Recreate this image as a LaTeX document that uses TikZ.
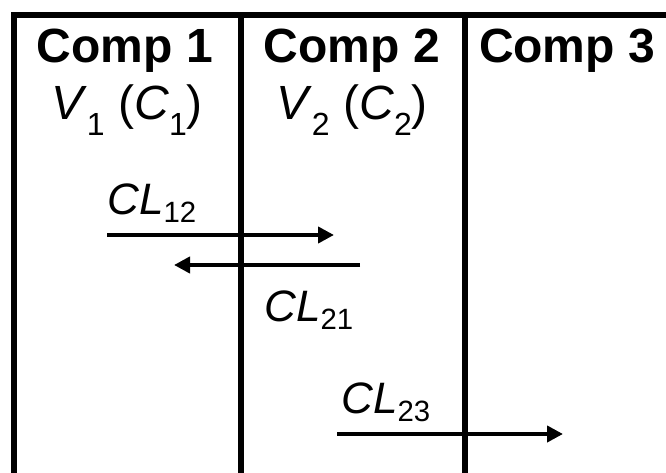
\documentclass[tikz,border=0pt]{standalone}
\usepackage{fontspec}
\setmainfont{Liberation Sans}
\usetikzlibrary{arrows.meta}

\newcommand{\vsub}[1]{\raisebox{-12pt}{\fontsize{24}{24}\selectfont #1}}
\newcommand{\clsub}[1]{\raisebox{-6pt}{\fontsize{22}{22}\selectfont #1}}

\begin{document}
\begin{tikzpicture}[x=0.75pt,y=-0.75pt,
    wall/.style={line width=3.8pt},
    flow/.style={line width=3.5pt,-{Triangle[length=12pt,width=12pt]}},
    comp/.style={inner sep=0pt,anchor=base,font=\fontsize{36}{36}\selectfont\bfseries},
    vol/.style={inner sep=0pt,anchor=base,font=\fontsize{36}{36}\selectfont},
    clear/.style={inner sep=0pt,anchor=base west,font=\fontsize{33}{33}\selectfont}]
  \useasboundingbox (0,0) rectangle (666,473);
  \draw[wall] (666,15) -- (14,15) -- (14,473);
  \draw[wall] (241,15) -- (241,473);
  \draw[wall] (465,15) -- (465,473);
  \node[comp] (comp1) at (125,63) {Comp 1};
  \node[comp] (comp2) at (352,63) {Comp 2};
  \node[comp] (comp3) at (567,63) {Comp 3};
  \node[vol] (vol1) at (127,120) {\textit{V}\vsub{1} (\textit{C}\vsub{1})};
  \node[vol] (vol2) at (352,120) {\textit{V}\vsub{2} (\textit{C}\vsub{2})};
  \coordinate (a12s) at (107,235);
  \coordinate (a12e) at (334,235);
  \coordinate (a21s) at (360,265);
  \coordinate (a21e) at (174,265);
  \coordinate (a23s) at (337,434);
  \coordinate (a23e) at (563,434);
  \draw[flow] (a12s) -- (a12e);
  \draw[flow] (a21s) -- (a21e);
  \draw[flow] (a23s) -- (a23e);
  \node[clear] (cl12) at (107,215) {\textit{CL}\clsub{12}};
  \node[clear] (cl21) at (264,321) {\textit{CL}\clsub{21}};
  \node[clear] (cl23) at (341,413) {\textit{CL}\clsub{23}};
\end{tikzpicture}
\end{document}
